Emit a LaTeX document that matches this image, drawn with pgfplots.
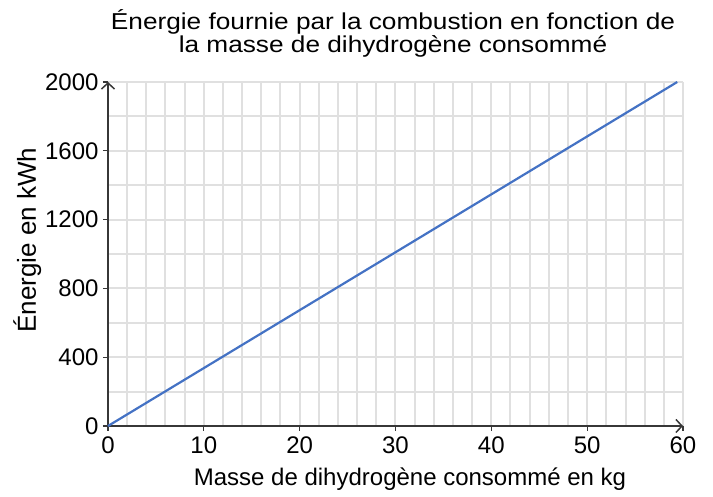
\documentclass[border=0pt]{standalone}
\usepackage{fontspec}
\setmainfont{Liberation Sans}
\usepackage{pgfplots}
\pgfplotsset{compat=1.18}
\usetikzlibrary{arrows.meta}
\definecolor{gridc}{RGB}{224,224,224}
\definecolor{linec}{RGB}{68,114,196}
\definecolor{axc}{RGB}{55,55,55}
\begin{document}
\begin{tikzpicture}[x=1pt,y=1pt]
\useasboundingbox (-108,-71) rectangle (605,426);
\begin{axis}[
  at={(0,0)}, anchor=south west,
  scale only axis, width=575pt, height=344pt,
  xmin=0, xmax=60, ymin=0, ymax=2000,
  axis lines=left,
  axis line style={line width=1.6pt, color=axc, -{Straight Barb[length=6pt,width=13pt,line width=1.5pt]}},
  xtick={0,10,...,60}, minor x tick num=4,
  ytick={0,400,...,2000}, minor y tick num=1,
  grid=both,
  major grid style={gridc, line width=2pt},
  minor grid style={gridc, line width=2pt},
  major tick length=5pt, minor tick length=0pt,
  tick align=outside,
  tick style={axc, line width=1.3pt},
  ticklabel style={font=\fontsize{24}{28}\selectfont},
  /pgf/number format/assume math mode=true,
  /pgf/number format/1000 sep={},
  xticklabel style={yshift=-2pt},
  yticklabel style={xshift=-1pt},
  clip=false,
]
\addplot[linec, line width=2.2pt] coordinates {(0,0) (59.4,2000)};
\end{axis}
\node[anchor=base, xscale=1.14, font=\fontsize{23}{27}\selectfont] at (285,396) {Énergie fournie par la combustion en fonction de};
\node[anchor=base, xscale=1.14, font=\fontsize{23}{27}\selectfont] at (285,373) {la masse de dihydrogène consommé};
\node[anchor=base, font=\fontsize{24}{28}\selectfont] at (302,-60) {Masse de dihydrogène consommé en kg};
\node[anchor=base, rotate=90, font=\fontsize{26}{30}\selectfont] at (-72,186) {Énergie en kWh};
\end{tikzpicture}
\end{document}
